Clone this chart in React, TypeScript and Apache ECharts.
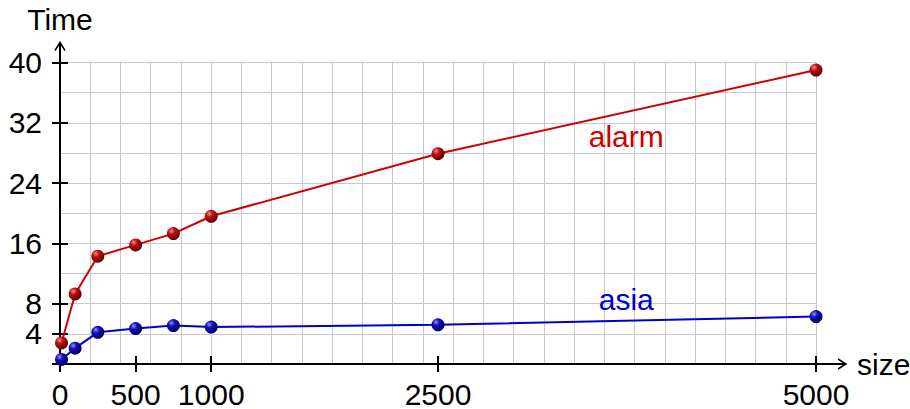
import React, { useEffect, useRef } from 'react';
import * as echarts from 'echarts';

const sizes = [10, 100, 250, 500, 750, 1000, 2500, 5000];
const alarmTimes = [2.8, 9.3, 14.3, 15.8, 17.3, 19.6, 27.9, 39.0];
const asiaTimes = [0.6, 2.1, 4.2, 4.7, 5.1, 4.9, 5.2, 6.3];
const xTickValues = [0, 500, 1000, 2500, 5000];
const yTickValues = [4, 8, 16, 24, 32, 40];
const seriesNames = ['alarm', 'asia'];
const xAxisName = 'size';
const yAxisName = 'Time';

export default function App() {
  const ref = useRef<HTMLDivElement>(null);
  useEffect(() => {
    document.body.style.margin = '0';
    const chart = echarts.init(ref.current!, null, { renderer: 'svg' });
    const font = '"Liberation Sans", Arial, Helvetica, sans-serif';
    const fs = 30;
    const tickStyle = { color: '#000', width: 2 };
    const baseX: any = { type: 'value', min: 0, max: 5000, position: 'bottom', gridIndex: 0 };
    const baseY: any = { type: 'value', min: 0, max: 40, position: 'left', gridIndex: 0 };
    const hidden = { splitLine: { show: false }, axisLine: { show: false } };
    const plain = (v: number) => String(v);
    const ballRed = new echarts.graphic.RadialGradient(0.35, 0.3, 0.75, [
      { offset: 0, color: '#f09090' },
      { offset: 0.35, color: '#c01010' },
      { offset: 1, color: '#500000' },
    ]);
    const ballBlue = new echarts.graphic.RadialGradient(0.35, 0.3, 0.75, [
      { offset: 0, color: '#9090f8' },
      { offset: 0.35, color: '#1010c0' },
      { offset: 1, color: '#000050' },
    ]);
    const option: any = {
      animation: false,
      grid: { left: 60, right: 94, top: 62.5, bottom: 43, containLabel: false },
      xAxis: [
        {
          ...baseX,
          interval: 200,
          splitLine: { show: true, lineStyle: { color: '#c8c8c8', width: 1 } },
          axisLine: { show: false },
          axisTick: { show: false },
          axisLabel: { show: false },
        },
        {
          ...baseX,
          ...hidden,
          axisTick: { show: true, inside: true, length: 8, customValues: xTickValues, lineStyle: tickStyle },
          axisLabel: { show: false },
        },
        {
          ...baseX,
          ...hidden,
          axisTick: { show: true, inside: false, length: 8, customValues: xTickValues, lineStyle: tickStyle },
          axisLabel: { show: true, customValues: xTickValues, formatter: plain, margin: 15, color: '#000', fontSize: fs, fontFamily: font },
        },
      ],
      yAxis: [
        {
          ...baseY,
          interval: 4,
          splitLine: { show: true, lineStyle: { color: '#c8c8c8', width: 1 } },
          axisLine: { show: false },
          axisTick: { show: false },
          axisLabel: { show: false },
        },
        {
          ...baseY,
          ...hidden,
          axisTick: { show: true, inside: true, length: 8, customValues: yTickValues, lineStyle: tickStyle },
          axisLabel: { show: false },
        },
        {
          ...baseY,
          ...hidden,
          axisTick: { show: true, inside: false, length: 8, customValues: yTickValues, lineStyle: tickStyle },
          axisLabel: { show: true, customValues: yTickValues, formatter: plain, margin: 18, color: '#000', fontSize: fs, fontFamily: font },
        },
      ],
      series: [
        {
          name: seriesNames[0],
          type: 'line',
          xAxisIndex: 0,
          yAxisIndex: 0,
          data: sizes.map((s, i) => [s, alarmTimes[i]]),
          lineStyle: { color: '#d00000', width: 2 },
          symbol: 'circle',
          symbolSize: 13,
          itemStyle: { color: ballRed },
          z: 5,
        },
        {
          name: seriesNames[1],
          type: 'line',
          xAxisIndex: 0,
          yAxisIndex: 0,
          data: sizes.map((s, i) => [s, asiaTimes[i]]),
          lineStyle: { color: '#0000cc', width: 2 },
          symbol: 'circle',
          symbolSize: 13,
          itemStyle: { color: ballBlue },
          z: 5,
        },
      ],
    };
    chart.setOption(option);

    const o = chart.convertToPixel({ gridIndex: 0 } as any, [0, 0]) as number[];
    const tr = chart.convertToPixel({ gridIndex: 0 } as any, [5000, 40]) as number[];
    const alarmPos = chart.convertToPixel({ gridIndex: 0 } as any, [3745, 30.2]) as number[];
    const asiaPos = chart.convertToPixel({ gridIndex: 0 } as any, [3745, 8.6]) as number[];
    const xTip = tr[0] + 30;
    const yTip = tr[1] - 20;
    const axisStroke = { stroke: '#000', lineWidth: 2 };
    const arrowStroke = { stroke: '#000', lineWidth: 1.5, fill: 'none' };
    chart.setOption({
      graphic: [
        { type: 'line', z: 3, shape: { x1: o[0] - 8, y1: o[1], x2: xTip, y2: o[1] }, style: axisStroke },
        { type: 'polyline', z: 3, shape: { points: [[xTip - 8, o[1] - 5], [xTip, o[1]], [xTip - 8, o[1] + 5]] }, style: arrowStroke },
        { type: 'line', z: 3, shape: { x1: o[0], y1: o[1] + 8, x2: o[0], y2: yTip }, style: axisStroke },
        { type: 'polyline', z: 3, shape: { points: [[o[0] - 5, yTip + 8], [o[0], yTip], [o[0] + 5, yTip + 8]] }, style: arrowStroke },
        { type: 'text', z: 10, x: o[0], y: tr[1] - 43, style: { text: yAxisName, fill: '#000', font: `${fs}px ${font}`, textAlign: 'center', textVerticalAlign: 'middle' } },
        { type: 'text', z: 10, x: xTip + 11, y: o[1], style: { text: xAxisName, fill: '#000', font: `${fs}px ${font}`, textAlign: 'left', textVerticalAlign: 'middle' } },
        { type: 'text', z: 10, x: alarmPos[0], y: alarmPos[1], style: { text: seriesNames[0], fill: '#d00000', font: `${fs}px ${font}`, textAlign: 'center', textVerticalAlign: 'middle' } },
        { type: 'text', z: 10, x: asiaPos[0], y: asiaPos[1], style: { text: seriesNames[1], fill: '#0000cc', font: `${fs}px ${font}`, textAlign: 'center', textVerticalAlign: 'middle' } },
      ],
    });
    return () => chart.dispose();
  }, []);
  return <div ref={ref} style={{ width: 910, height: 409 }} />;
}
